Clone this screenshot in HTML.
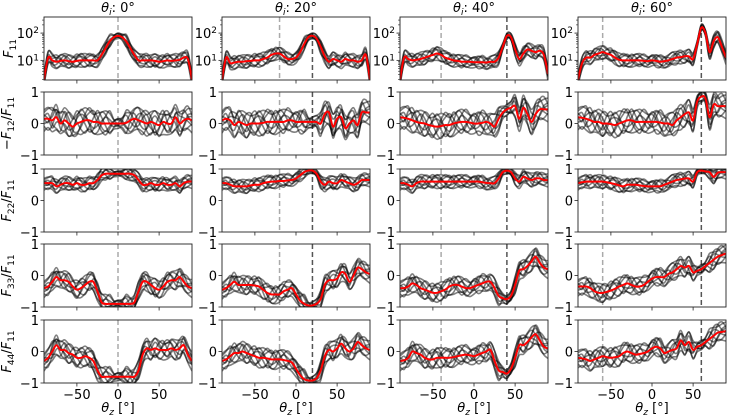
<!DOCTYPE html>
<html><head><meta charset="utf-8">
<style>
html,body{margin:0;padding:0;background:#fff;}
svg{display:block;font-family:"DejaVu Sans","Liberation Sans",sans-serif;}
</style></head>
<body>
<svg id="chart" width="747" height="417" viewBox="0 0 747 417" xmlns="http://www.w3.org/2000/svg"></svg>
<script>
// angles
const thetaZ = [-90,-85,-80,-75,-70,-65,-60,-55,-50,-45,-40,-35,-30,-25,-20,-15,-10,-5,0,5,10,15,20,25,30,35,40,45,50,55,60,65,70,75,80,85,90];
const incidentAngles = [0,20,40,60];
const xTicks = [-50,0,50];
const xTickLabels = ["\u221250","0","50"];
const linTicks = [1,0,-1];
const linTickLabels = ["1","0","\u22121"];
const logTicks = [1,2];
// mean curves (F11 in log10)
const f11_0 = [0.3,1.1,1.0,0.95,0.98,1.0,0.97,0.95,0.98,1.0,1.0,1.0,1.0,1.0,1.2,1.45,1.7,1.85,1.9,1.85,1.7,1.45,1.2,1.0,1.0,1.0,1.0,0.98,0.95,0.97,1.0,0.98,1.0,1.02,1.1,1.05,0.3];
const f12_0 = [0.15,0.15,0.1,0.2,0.0,0.1,0.0,-0.1,0.0,0.05,0.1,0.1,0.05,0.05,0.0,0.0,0.0,0.0,0.0,0.0,0.02,0.1,0.15,0.1,0.05,0.0,0.05,0.0,-0.05,0.05,0.0,0.0,0.2,0.0,0.1,0.15,0.1];
const f22_0 = [0.55,0.55,0.55,0.45,0.5,0.55,0.55,0.5,0.55,0.5,0.5,0.55,0.55,0.65,0.8,0.85,0.85,0.85,0.85,0.85,0.85,0.85,0.8,0.65,0.5,0.5,0.55,0.5,0.5,0.55,0.5,0.5,0.55,0.45,0.55,0.6,0.6];
const f33_0 = [-0.4,-0.35,-0.2,-0.05,-0.15,-0.15,-0.2,-0.35,-0.45,-0.4,-0.3,-0.2,-0.2,-0.5,-0.85,-0.9,-0.9,-0.9,-0.9,-0.9,-0.9,-0.9,-0.85,-0.5,-0.2,-0.2,-0.3,-0.4,-0.45,-0.35,-0.2,-0.15,-0.15,-0.05,-0.2,-0.35,-0.4];
const f44_0 = [-0.3,-0.2,0.0,0.2,0.05,0.05,-0.05,-0.1,-0.2,-0.2,-0.15,-0.2,-0.3,-0.6,-0.8,-0.8,-0.8,-0.8,-0.8,-0.8,-0.8,-0.8,-0.8,-0.6,-0.1,0.1,0.05,0.1,0.05,0.05,0.05,0.1,0.05,0.1,0.2,-0.1,-0.3];
const f11_20 = [0.3,1.1,0.9,0.92,0.95,0.95,0.97,0.98,1.0,1.0,1.05,1.1,1.2,1.25,1.25,1.15,1.05,1.05,1.1,1.3,1.6,1.85,1.9,1.8,1.5,1.15,0.95,1.05,1.0,0.95,1.05,1.0,1.0,0.95,1.0,1.2,0.3];
const f12_20 = [0.1,0.15,0.1,-0.05,0.05,0.0,-0.05,0.0,0.0,0.0,0.02,0.05,0.05,0.05,0.05,0.05,0.1,0.1,0.05,0.05,0.05,0.05,0.05,0.05,0.0,0.3,0.35,-0.1,0.15,0.2,-0.15,0.0,0.1,-0.05,0.35,0.35,0.35];
const f22_20 = [0.55,0.55,0.5,0.45,0.45,0.45,0.45,0.48,0.5,0.5,0.55,0.58,0.6,0.6,0.62,0.62,0.64,0.65,0.7,0.8,0.9,0.95,0.95,0.85,0.6,0.5,0.6,0.55,0.55,0.65,0.6,0.55,0.5,0.55,0.65,0.65,0.65];
const f33_20 = [-0.45,-0.4,-0.3,-0.2,-0.3,-0.3,-0.3,-0.3,-0.32,-0.35,-0.45,-0.55,-0.6,-0.6,-0.6,-0.5,-0.45,-0.4,-0.6,-0.8,-0.9,-0.95,-0.95,-0.9,-0.75,-0.3,-0.15,-0.15,-0.1,0.1,0.05,-0.2,0.0,0.25,0.2,0.1,0.05];
const f44_20 = [-0.3,-0.25,-0.15,-0.05,-0.05,0.0,-0.05,-0.1,-0.15,-0.2,-0.2,-0.22,-0.25,-0.25,-0.25,-0.27,-0.3,-0.35,-0.55,-0.75,-0.88,-0.92,-0.92,-0.85,-0.6,-0.15,0.05,0.0,0.1,0.25,0.1,0.0,0.1,0.3,0.2,0.1,0.05];
const f11_40 = [0.3,1.1,1.05,1.0,1.02,1.05,1.1,1.15,1.2,1.25,1.2,1.1,1.05,1.0,0.98,0.95,0.95,0.95,0.93,0.93,0.93,0.92,0.95,0.95,1.1,1.5,1.9,1.85,1.4,1.05,1.25,1.4,1.35,1.3,1.35,1.2,0.5];
const f12_40 = [0.2,0.18,0.15,0.1,0.05,0.02,0.0,-0.05,-0.08,-0.1,-0.08,-0.05,-0.05,0.0,0.03,0.05,0.05,0.03,0.0,0.0,0.02,0.05,0.0,-0.1,0.15,0.35,0.45,0.5,0.55,0.15,0.5,0.3,0.05,0.3,0.45,0.45,0.45];
const f22_40 = [0.55,0.55,0.5,0.45,0.55,0.6,0.6,0.6,0.6,0.6,0.6,0.6,0.6,0.6,0.6,0.6,0.6,0.6,0.6,0.6,0.58,0.56,0.55,0.55,0.7,0.9,0.95,0.9,0.7,0.6,0.75,0.7,0.65,0.7,0.7,0.65,0.65];
const f33_40 = [-0.4,-0.4,-0.35,-0.25,-0.3,-0.4,-0.45,-0.5,-0.55,-0.55,-0.5,-0.45,-0.35,-0.3,-0.3,-0.35,-0.4,-0.4,-0.35,-0.3,-0.25,-0.2,-0.2,-0.4,-0.65,-0.72,-0.75,-0.65,-0.3,0.15,0.2,0.3,0.45,0.6,0.4,0.25,0.2];
const f44_40 = [-0.3,-0.28,-0.2,0.0,-0.05,-0.1,-0.2,-0.25,-0.25,-0.2,-0.2,-0.2,-0.2,-0.18,-0.15,-0.12,-0.1,-0.12,-0.15,-0.1,-0.05,0.0,0.05,-0.3,-0.6,-0.65,-0.7,-0.55,-0.2,0.2,0.2,0.3,0.45,0.55,0.35,0.15,0.1];
const f11_60 = [0.3,0.9,1.1,1.1,1.2,1.25,1.3,1.25,1.2,1.1,1.02,1.0,1.0,1.0,1.0,1.0,0.98,0.97,1.0,0.98,0.95,0.97,1.0,1.05,1.1,1.12,1.15,1.15,1.05,1.6,2.2,2.0,1.3,1.7,1.85,1.5,1.1];
const f12_60 = [0.2,0.18,0.15,0.1,0.05,0.05,0.0,0.0,-0.02,-0.05,0.0,0.05,0.1,0.1,0.05,0.05,0.05,0.05,0.05,0.05,0.03,0.0,0.0,-0.05,0.1,0.2,0.3,0.35,0.1,0.7,0.85,0.8,0.2,0.6,0.55,0.55,0.55];
const f22_60 = [0.55,0.58,0.6,0.6,0.6,0.6,0.6,0.58,0.55,0.52,0.48,0.45,0.5,0.5,0.5,0.48,0.46,0.45,0.45,0.45,0.45,0.5,0.55,0.6,0.65,0.67,0.7,0.7,0.6,0.9,0.95,0.92,0.9,0.75,0.88,0.9,0.9];
const f33_60 = [-0.35,-0.35,-0.35,-0.4,-0.5,-0.55,-0.55,-0.52,-0.48,-0.42,-0.35,-0.3,-0.25,-0.3,-0.35,-0.35,-0.3,-0.2,-0.1,-0.05,-0.05,-0.05,0.05,0.1,0.2,0.3,0.25,0.3,0.1,0.15,0.2,0.3,0.4,0.5,0.6,0.65,0.7];
const f44_60 = [-0.2,-0.22,-0.25,-0.3,-0.25,-0.2,-0.15,-0.18,-0.2,-0.18,-0.15,-0.05,0.0,-0.05,-0.1,-0.08,-0.05,0.0,0.1,0.15,0.1,-0.05,0.0,0.05,0.1,0.35,0.2,0.3,0.05,0.15,0.2,0.3,0.4,0.5,0.6,0.62,0.65];
// individual-sample deviation profiles (relative to mean)
const dev1 = [0.5,0.8,1.0,0.3,-0.4,-0.8,-0.2,0.6,1.0,0.5,-0.3,-0.9,-0.6,0.2,0.9,0.7,0.0,-0.5,-0.3,0.4,1.0,0.6,-0.2,-0.8,-1.0,-0.3,0.5,1.0,0.6,-0.2,-0.7,-0.4,0.3,0.9,0.8,0.2,-0.2];
const dev2 = [-0.6,-0.9,-0.4,0.3,0.9,0.6,-0.1,-0.7,-0.9,-0.2,0.5,1.0,0.7,-0.1,-0.6,-0.9,-0.4,0.3,0.8,0.5,-0.3,-0.9,-0.7,0.1,0.8,1.0,0.4,-0.4,-0.9,-0.6,0.2,0.8,0.7,-0.1,-0.8,-0.7,-0.3];
const dev3 = [0.2,0.4,-0.3,-0.9,-0.6,0.2,0.9,0.8,0.1,-0.6,-1.0,-0.5,0.3,0.9,0.5,-0.2,-0.8,-0.6,0.1,0.8,0.6,-0.1,-0.6,-0.4,0.3,0.7,-0.2,-0.9,-0.3,0.6,1.0,0.4,-0.5,-1.0,-0.4,0.3,0.5];
const dev4 = [-1.0,-0.7,-0.9,-1.0,-0.8,-0.9,-1.0,-0.7,-0.8,-1.0,-0.9,-0.7,-0.9,-1.0,-0.8,-0.6,-0.7,-0.9,-0.8,-0.6,-0.8,-1.0,-0.9,-0.7,-0.8,-1.0,-0.9,-0.7,-0.8,-1.0,-0.9,-0.8,-1.0,-0.9,-0.7,-0.8,-1.0];
const dev5 = [0.7,0.9,0.8,0.6,0.8,1.0,0.9,0.6,0.7,0.9,1.0,0.8,0.6,0.7,0.9,1.0,0.8,0.6,0.7,0.9,0.8,0.6,0.8,1.0,0.9,0.7,0.8,1.0,0.9,0.6,0.7,0.9,1.0,0.8,0.6,0.8,0.9];
const dev6 = [0.0,-0.3,0.6,1.0,0.4,-0.5,-1.0,-0.4,0.5,1.0,0.5,-0.3,-0.9,-0.8,0.0,0.6,1.0,0.6,-0.2,-0.9,-0.8,0.0,0.7,1.0,0.3,-0.6,-1.0,-0.2,0.7,0.9,0.1,-0.7,-0.9,0.0,0.8,1.0,0.4];
const dev7 = [-0.4,-0.2,0.3,0.6,0.2,-0.3,-0.5,-0.1,0.4,0.6,0.3,-0.2,-0.5,-0.3,0.2,0.5,0.3,-0.1,-0.4,-0.3,0.1,0.5,0.4,-0.1,-0.5,-0.4,0.1,0.6,0.3,-0.3,-0.6,-0.2,0.3,0.6,0.2,-0.2,-0.4];
const dev8 = [0.3,0.0,-0.6,-0.4,0.2,0.7,0.4,-0.3,-0.7,-0.4,0.2,0.6,0.9,0.4,-0.3,-0.6,-0.2,0.4,0.6,0.2,-0.4,-0.6,-0.1,0.5,0.6,0.1,-0.5,-0.7,-0.2,0.4,0.7,0.5,-0.1,-0.6,-0.5,0.1,0.3];

const NS="http://www.w3.org/2000/svg";
const svg=document.getElementById('chart');
const colX=[44,222,400,578], W=148;
const rowY=[17,92,169,244,320], H=63;
const rowNames=['f11','f12','f22','f33','f44'];
const means=[[f11_0,f12_0,f22_0,f33_0,f44_0],[f11_20,f12_20,f22_20,f33_20,f44_20],[f11_40,f12_40,f22_40,f33_40,f44_40],[f11_60,f12_60,f22_60,f33_60,f44_60]];
const devs=[dev1,dev2,dev3,dev4,dev5,dev6,dev7,dev8];
const spreads=[0.25,0.4,0.22,0.3,0.32];
const logMin=0.28, logMax=2.59;

function el(tag,attrs,parent){const e=document.createElementNS(NS,tag);for(const k in attrs)e.setAttribute(k,attrs[k]);(parent||svg).appendChild(e);return e;}
function xScale(c,v){return colX[c]+(v+90)/180*W;}
function yScale(r,v){if(r===0)return rowY[0]+(logMax-v)/(logMax-logMin)*H;return rowY[r]+(1-v)/2*H;}
function smoothPath(pts){let d='M'+pts[0][0].toFixed(2)+','+pts[0][1].toFixed(2);
 for(let i=0;i<pts.length-1;i++){const p0=pts[Math.max(0,i-1)],p1=pts[i],p2=pts[i+1],p3=pts[Math.min(pts.length-1,i+2)];
  const c1=[p1[0]+(p2[0]-p0[0])/6,p1[1]+(p2[1]-p0[1])/6],c2=[p2[0]-(p3[0]-p1[0])/6,p2[1]-(p3[1]-p1[1])/6];
  d+='C'+c1[0].toFixed(2)+','+c1[1].toFixed(2)+' '+c2[0].toFixed(2)+','+c2[1].toFixed(2)+' '+p2[0].toFixed(2)+','+p2[1].toFixed(2);}
 return d;}

const defs=el('defs',{});
for(let c=0;c<4;c++){
 const ti=el('text',{x:colX[c]+W/2,y:12,'text-anchor':'middle','font-size':'13',fill:'#000'});
 
 
 ti.innerHTML='<tspan font-style="italic">θ</tspan><tspan font-style="italic" font-size="9" dy="3">i</tspan><tspan dy="-3">: '+incidentAngles[c]+'°</tspan>';
 for(let r=0;r<5;r++){
  const id='clip'+c+'_'+r;
  const cp=el('clipPath',{id:id},defs); el('rect',{x:colX[c],y:rowY[r],width:W,height:H},cp);
  const g=el('g',{});
  
  
  const plot=el('g',{'clip-path':'url(#'+id+')'},g);
  const th=incidentAngles[c];
  const dl=el('line',{x1:xScale(c,-th),x2:xScale(c,-th),y1:rowY[r],y2:rowY[r]+H,stroke:'#aaa','stroke-width':1.5,'stroke-dasharray':'5,3'},plot);
  
  
  if(th>0){const dl2=el('line',{x1:xScale(c,th),x2:xScale(c,th),y1:rowY[r],y2:rowY[r]+H,stroke:'#555','stroke-width':1.5,'stroke-dasharray':'5,3'},plot);
   
   }
  const m=means[c][r];
  for(let k=0;k<devs.length;k++){
   const pts=thetaZ.map((t,i)=>{
     let s=spreads[r];
     const dSpec=Math.abs(t-th);
     if(dSpec<8) s*=0.5;
     let v=m[i]+devs[k][i]*s;
     if(r>0) v=Math.max(-1,Math.min(1,v));
     return [xScale(c,t),yScale(r,v)];});
   const p=el('path',{d:smoothPath(pts),fill:'none',stroke:'#000','stroke-opacity':0.5,'stroke-width':1.6},plot);
   
   
  }
  const rp=el('path',{d:smoothPath(thetaZ.map((t,i)=>[xScale(c,t),yScale(r,m[i])])),fill:'none',stroke:'#ff0000','stroke-width':2},plot);
  
  
  const fr=el('rect',{x:colX[c],y:rowY[r],width:W,height:H,fill:'none',stroke:'#222','stroke-width':0.9},g);
  
  
  xTicks.forEach((t,j)=>{const x=xScale(c,t);el('line',{x1:x,x2:x,y1:rowY[r]+H,y2:rowY[r]+H+3.5,stroke:'#222','stroke-width':0.8},g);
   if(r===4){const tl=el('text',{x:x,y:rowY[r]+H+16,'text-anchor':'middle','font-size':'13',fill:'#000'},g);tl.textContent=xTickLabels[j];
    
    }});
  if(r===0){
   logTicks.forEach(e=>{const y=yScale(0,e);el('line',{x1:colX[c]-3.5,x2:colX[c],y1:y,y2:y,stroke:'#222','stroke-width':0.8},g);
    const tl=el('text',{x:colX[c]-5,y:y+5,'text-anchor':'end','font-size':'13',fill:'#000'},g);
    tl.innerHTML='10<tspan font-size="9" dy="-5">'+e+'</tspan>';
    
    });
   for(let d=0;d<3;d++)for(let k=2;k<10;k++){const v=d+Math.log10(k);if(v<logMin||v>logMax)continue;const y=yScale(0,v);
    el('line',{x1:colX[c]-2,x2:colX[c],y1:y,y2:y,stroke:'#222','stroke-width':0.6},g);}
  } else {
   linTicks.forEach((t,j)=>{const y=yScale(r,t);el('line',{x1:colX[c]-3.5,x2:colX[c],y1:y,y2:y,stroke:'#222','stroke-width':0.8},g);
    const tl=el('text',{x:colX[c]-5,y:y+5,'text-anchor':'end','font-size':'13',fill:'#000'},g);tl.textContent=linTickLabels[j];
    
    });
  }
 }
 const xl=el('text',{x:colX[c]+W/2,y:412,'text-anchor':'middle','font-size':'13',fill:'#000'});
 
 
 xl.innerHTML='<tspan font-style="italic">θ</tspan><tspan font-style="italic" font-size="9" dy="3">z</tspan><tspan dy="-3"> [°]</tspan>';
}
const yTitles=[
 '<tspan font-style="italic">F</tspan><tspan font-size="9" dy="3">11</tspan>',
 '−<tspan font-style="italic">F</tspan><tspan font-size="9" dy="3">12</tspan><tspan dy="-3">/</tspan><tspan font-style="italic">F</tspan><tspan font-size="9" dy="3">11</tspan>',
 '<tspan font-style="italic">F</tspan><tspan font-size="9" dy="3">22</tspan><tspan dy="-3">/</tspan><tspan font-style="italic">F</tspan><tspan font-size="9" dy="3">11</tspan>',
 '<tspan font-style="italic">F</tspan><tspan font-size="9" dy="3">33</tspan><tspan dy="-3">/</tspan><tspan font-style="italic">F</tspan><tspan font-size="9" dy="3">11</tspan>',
 '<tspan font-style="italic">F</tspan><tspan font-size="9" dy="3">44</tspan><tspan dy="-3">/</tspan><tspan font-style="italic">F</tspan><tspan font-size="9" dy="3">11</tspan>'];
for(let r=0;r<5;r++){const cy=rowY[r]+H/2;const xx=r===0?13:11;
 const t=el('text',{x:xx,y:cy,'text-anchor':'middle','font-size':'13',fill:'#000',transform:'rotate(-90 '+xx+' '+cy+')'});
 
 
 t.innerHTML=yTitles[r];}
</script>
</body></html>
